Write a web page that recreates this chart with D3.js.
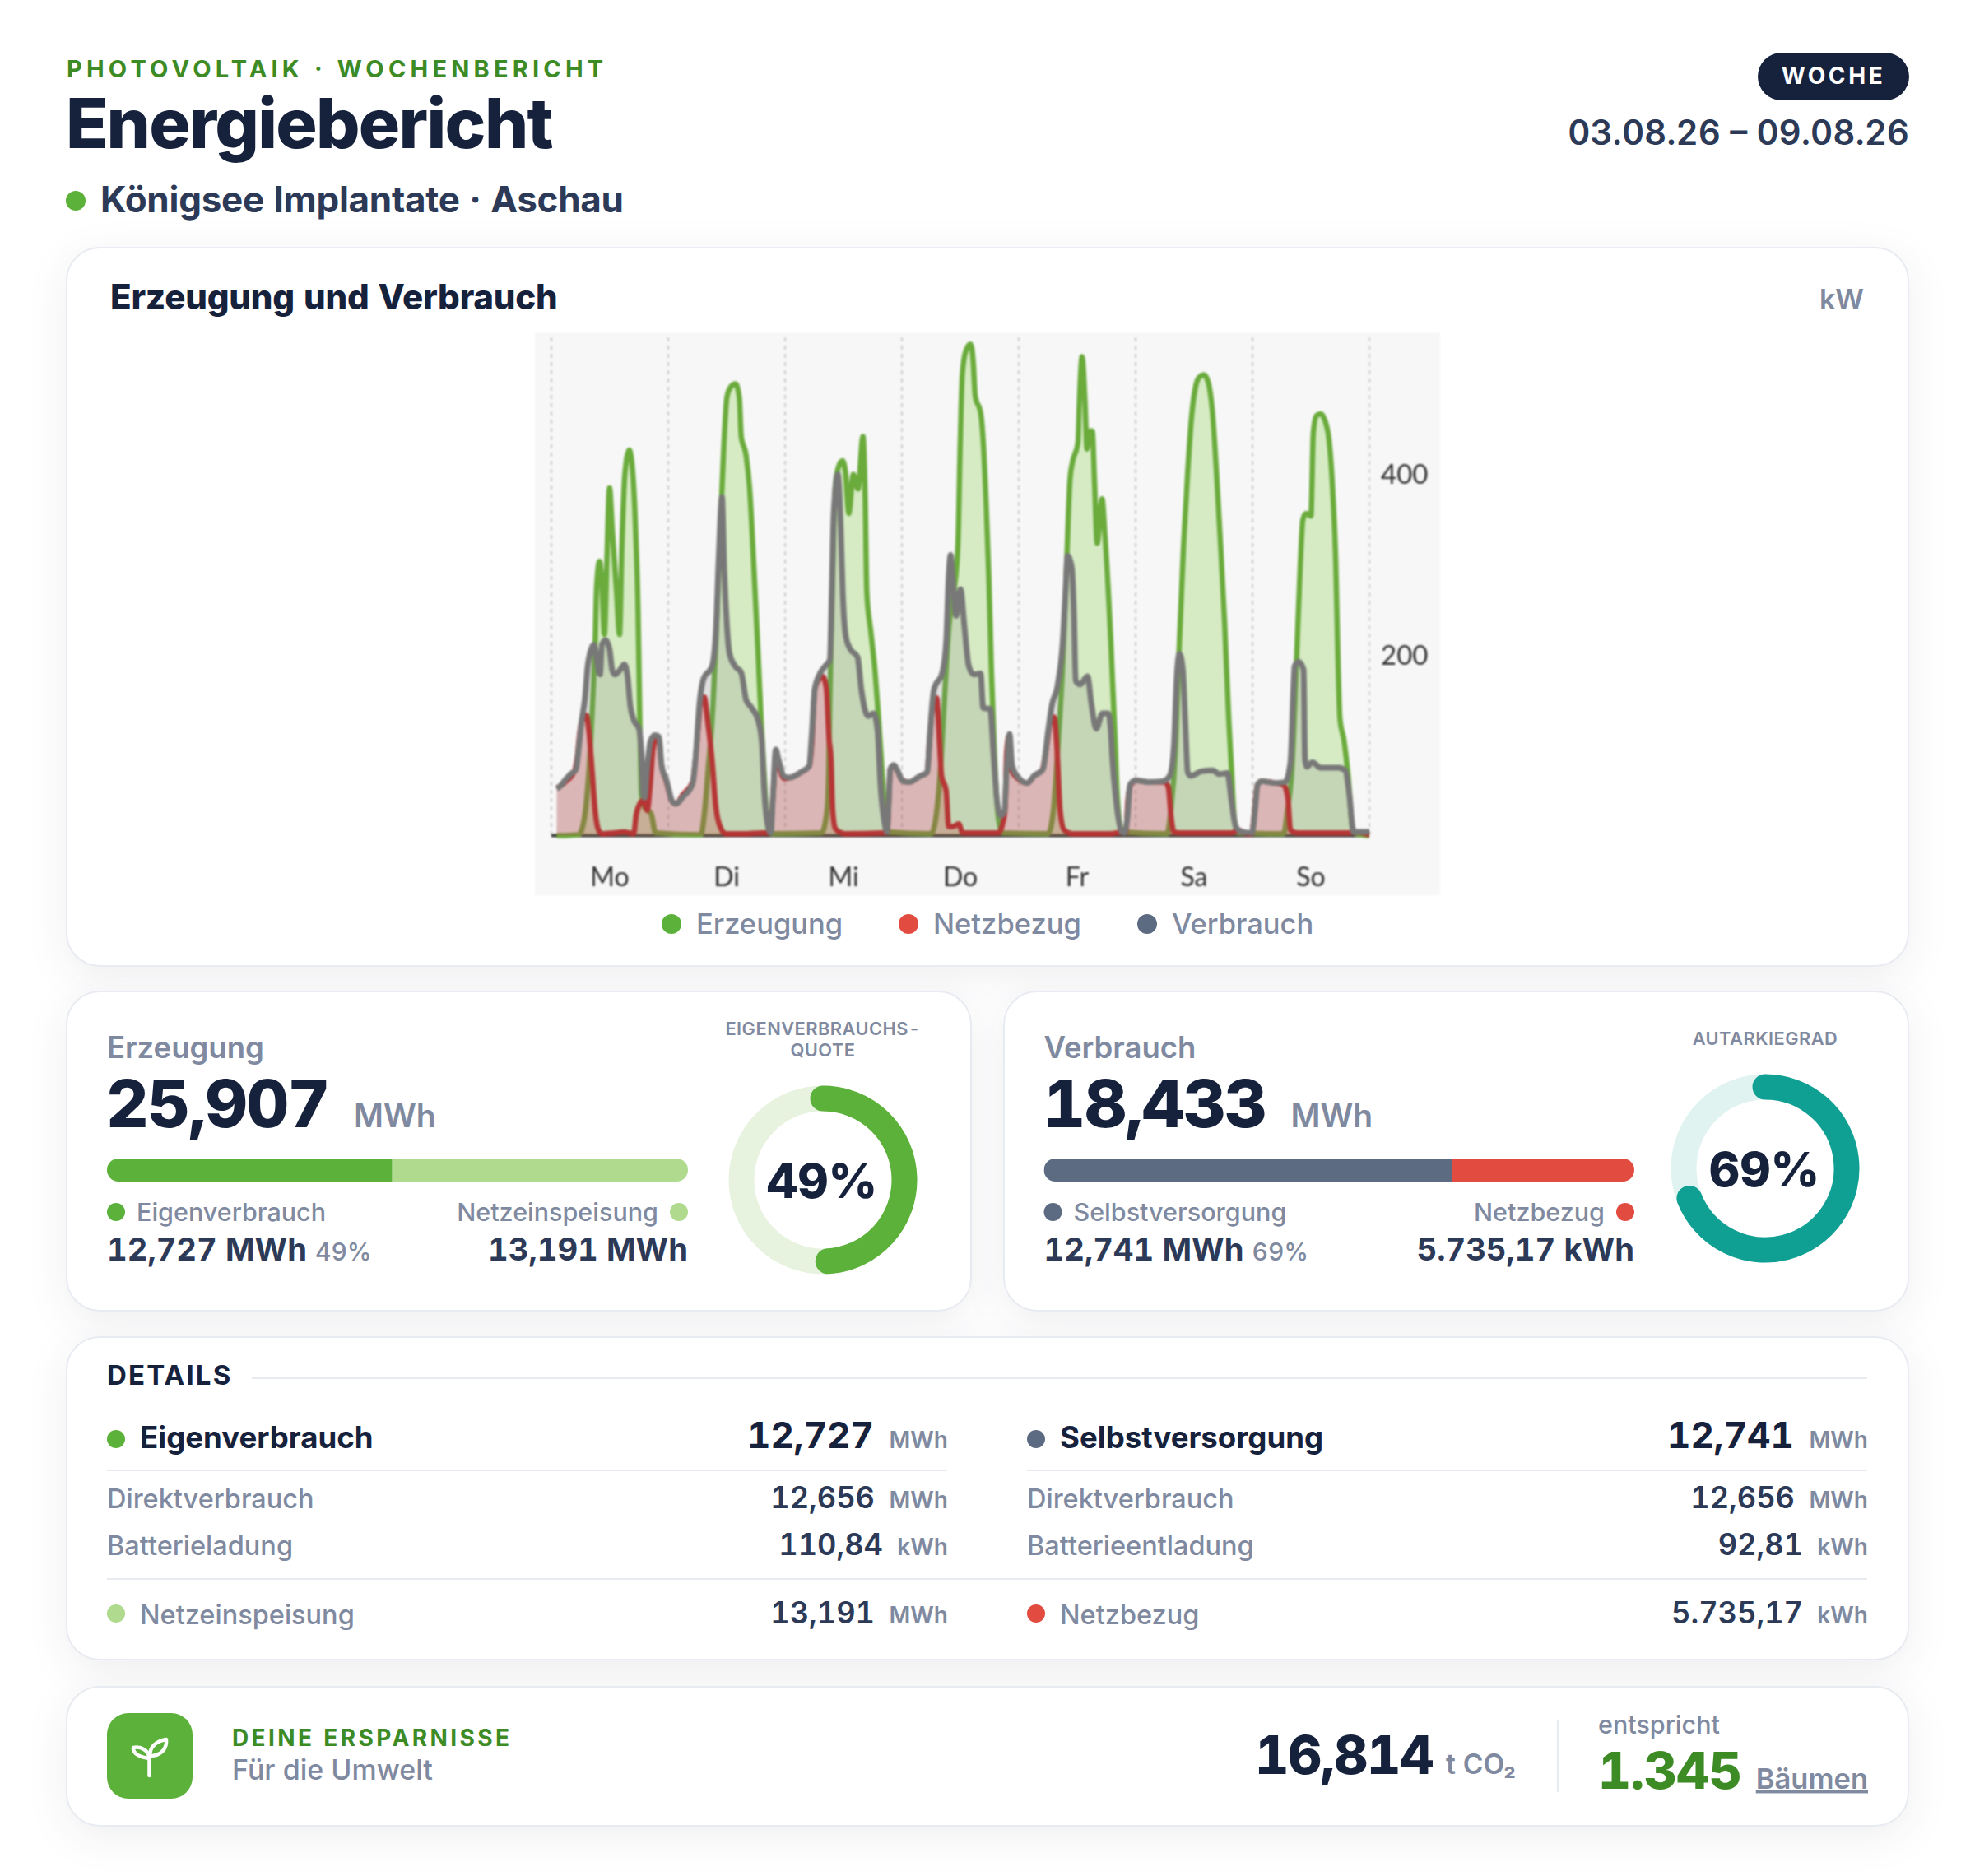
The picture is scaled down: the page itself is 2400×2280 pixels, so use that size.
<!DOCTYPE html>
<html lang="de">
<head>
<meta charset="utf-8">
<title>Energiebericht</title>
<script src="https://cdn.jsdelivr.net/npm/d3@7"></script>
<style>
  html, body { margin: 0; padding: 0; background: #fff; }
  svg { display: block; }
  text { font-family: Inter, "Noto Sans", sans-serif; font-feature-settings: "tnum"; }
  .plot text { font-family: Lato, sans-serif; }
  .card { filter: drop-shadow(0 12px 24px rgba(22, 33, 60, 0.07)); }
</style>
</head>
<body>
<svg id="report" width="2400" height="2280"></svg>
<script>
// Werte: [Stunde seit Montag 0 Uhr, kW]
var erzeugung = [[1.1,0],[5.6,1],[6.8,20],[7.6,63],[8.45,144],[9,215],[9.3,275],[9.9,303],[10.4,275],[10.9,222],[11.4,303],[11.95,384],[12.5,339],[13.4,268],[14,222],[14.5,321],[15.1,399],[16,426],[16.8,395],[17.35,332],[17.8,250],[18.15,134],[18.5,45],[19.15,31],[20.5,24],[21.4,3],
  [30.7,1],[31.55,31],[32.2,73],[33,126],[33.8,215],[34.65,332],[35.4,427],[36.05,484],[36.9,496],[37.85,499],[38.6,484],[39,441],[40,420],[40.7,385],[41.6,296],[42.5,197],[43.1,126],[43.65,73],[44.5,10],[45.1,2],
  [55.5,3],[56.6,27],[56.9,60],[57.2,150],[57.5,220],[58,339],[58.3,385],[58.9,406],[59.8,414],[60.4,402],[61.1,356],[62,399],[63,383],[64,441],[64.45,374],[64.8,268],[65.6,226],[66.5,180],[67.15,134],[67.9,73],[68.45,27],[69,4],
  [78,2],[79.15,27],[80,80],[80.85,162],[81.7,233],[82.8,275],[83.5,321],[83.95,427],[84.4,509],[85.1,535],[86.1,543],[86.65,523],[87.05,486],[88.2,466],[88.75,431],[89.3,367],[89.85,286],[90.4,180],[91,91],[91.8,20],[92.7,3],
  [102,2],[103.1,27],[103.95,91],[105.1,197],[105.9,310],[106.5,392],[107.05,413],[108.15,434],[108.45,480],[109,529],[109.6,480],[110,427],[110.6,447],[111.1,447],[111.55,392],[112.1,323],[113.1,372],[113.7,332],[114.9,215],[115.75,109],[116.3,38],[117.2,4],
  [126.45,2],[127.3,31],[128.15,91],[129,215],[129.85,321],[130.7,402],[131.5,463],[132.4,498],[133.2,507],[134.05,509],[134.9,501],[135.75,470],[136.6,402],[137.45,321],[138.3,233],[139.15,126],[139.7,73],[140.25,20],[141.1,3],
  [150.4,2],[151.25,31],[152.1,73],[152.95,180],[153.8,296],[154.35,349],[155,356],[156,353],[156.5,445],[157.15,464],[158,466],[158.85,459],[159.7,438],[160.55,374],[161.1,303],[161.55,197],[161.95,130],[162.8,105],[163.65,66],[164.5,10],[165.3,2],[168,0]];

var netzbezug = [[1.1,52],[2.8,59],[4.8,72],[5.35,88],[5.9,116],[6.5,130],[7.15,133],[7.7,116],[8.35,73],[9,27],[9.7,6],[10.4,2],[13,3],[14.9,4],[16.05,3],[16.9,2],[17.45,24],[18.15,35],[18.85,39],[19.7,28],[20.3,56],[20.85,95],[21.4,107],[22.1,105],[22.55,81],[23.65,59],[24.8,38],[25.6,35],[27,45],[29,59],[29.6,84],[30.15,119],[30.7,148],[31.4,153],[32.1,126],[33,84],[33.8,31],[34.65,10],[35.8,2],[39.4,2],[43.4,3],[44.8,3],
  [45.5,42],[45.9,77],[46.1,95],[46.65,80],[47.9,63],[49,64],[51.3,70],[53,77],[53.5,102],[54.1,162],[54.9,172],[55.7,176],[56.5,162],[57,109],[57.46,84],[57.75,31],[58.3,8],[59.15,4],[60.3,2],[68.45,3],[69,4],
  [69.3,38],[69.6,73],[70.15,77],[71,72],[72.1,61],[73.5,59],[75.5,65],[77.2,70],[77.6,98],[78.2,137],[79.15,152],[79.7,105],[80.15,66],[81.1,49],[81.6,10],[82.5,10],[83.65,13],[84.5,3],[91.8,3],
  [92.7,13],[93.2,31],[93.5,91],[94.1,112],[94.5,73],[95.8,63],[97.75,58],[99.15,66],[100.85,73],[101.7,98],[102.5,126],[103.25,131],[103.9,91],[104.5,27],[105.35,6],[107,2],[114.9,2],[117.4,4],
  [118,4],[118.4,38],[119,56],[120,61],[122.8,59],[125.9,59],[126.7,54],[127.3,20],[127.85,4],[129,3],[139.7,3],[141.1,6],[143.1,2],[143.9,2],
  [144.3,20],[145,56],[145.9,60],[148.7,58],[150.4,56],[151.25,42],[151.8,6],[153.2,3],[163.9,3],[165,4],[168,1]];

var verbrauch = [[1.1,52],[1.7,54],[2.8,61],[3.95,68],[5.05,73],[5.65,98],[6.2,126],[6.9,151],[7.45,187],[8,203],[8.75,211],[9.45,190],[10,178],[10.4,211],[11.15,216],[11.95,206],[12.5,183],[13.05,178],[14.1,183],[15,189],[15.65,176],[16.2,144],[16.9,128],[18,118],[18.5,91],[18.9,45],[19.15,42],[19.7,77],[20.4,105],[21.3,111],[22.1,109],[22.65,77],[23.65,61],[24.8,38],[25.6,35],[27.05,43],[29,57],[29.6,84],[30.4,144],[31.25,173],[33,187],[33.8,226],[34.35,303],[35.05,374],[35.5,296],[36.05,233],[36.6,201],[37.75,187],[39,180],[40,150],[41.15,141],[42.55,126],[43.25,102],[43.65,56],[44.5,10],[45.05,3],
  [45.5,42],[46.1,95],[46.65,84],[47.9,65],[49,64],[51.25,70],[52.95,77],[53.5,112],[54.1,162],[54.9,176],[56.35,188],[57.2,194],[57.6,268],[58,356],[58.85,399],[59.45,339],[59.85,268],[60.55,218],[61.4,206],[62.9,197],[63.65,162],[64.5,137],[65.05,132],[66.2,135],[67,116],[67.6,56],[68.45,13],[68.9,4],
  [69.3,38],[69.6,73],[70.3,78],[71.25,70],[72.2,60],[73.5,59],[75.5,65],[77.2,70],[77.75,112],[78.6,162],[80.3,180],[81.1,215],[81.6,286],[82,310],[82.55,275],[83.15,243],[84.05,272],[84.8,233],[85.75,187],[86.75,178],[88.15,179],[88.7,141],[90.15,140],[90.8,91],[91.55,38],[92.3,22],[93.05,27],
  [93.5,73],[94.1,112],[94.65,77],[95.8,65],[97.75,58],[99.15,66],[100.95,73],[101.95,112],[102.8,144],[103.95,165],[105.05,215],[105.65,275],[106,309],[106.9,296],[107.3,250],[107.7,171],[108.6,167],[110.1,176],[110.95,144],[111.9,118],[113.2,135],[114.35,135],[114.9,116],[115.2,87],[116,38],[117.15,4],[117.7,3],
  [118.3,20],[118.85,56],[120,61],[122.8,59],[125.6,60],[127,66],[127.85,98],[128.5,180],[129,201],[129.7,183],[130.2,126],[130.7,70],[131.35,66],[133.5,71],[135.85,72],[137.15,68],[138.85,69],[139.7,38],[140.55,10],[141.95,4],[143.9,3],
  [144.5,27],[145.05,56],[145.9,60],[148.7,58],[150.7,59],[151.8,81],[152.4,162],[152.65,187],[153.5,192],[154.5,183],[154.8,84],[155.2,76],[156.3,81],[158,75],[161.65,75],[163.05,72],[163.9,45],[164.75,4],[168,4]];

var tage = ["Mo", "Di", "Mi", "Do", "Fr", "Sa", "So"];
var yTicks = [200, 400];
var legende = ["Erzeugung", "Netzbezug", "Verbrauch"];

var eigenverbrauch = 12.727, netzeinspeisung = 13.191;
var selbstversorgung = 12.741, netzbezugMWh = 5.692;
var quoteEigen = 49, quoteAutark = 69;

var detailsLinks = [["Direktverbrauch", "12,656", "MWh"], ["Batterieladung", "110,84", "kWh"]];
var detailsRechts = [["Direktverbrauch", "12,656", "MWh"], ["Batterieentladung", "92,81", "kWh"]];

var NAVY = "#16213c", SLATE = "#2c3a57", MUTED = "#7f8aa0", RULE = "#e8ebf1";
var GREEN = "#5bb13a", LIGHTGREEN = "#b0da8e", DARKGREEN = "#3d8b24", STEEL = "#5d6b82", RED = "#e14b40", TEAL = "#0fa093";

var svg = d3.select("#report");

function txt(parent, x, y, s, size, weight, fill, anchor, ls) {
    return parent.append("text")
        .attr("x", x).attr("y", y)
        .attr("font-size", size).attr("font-weight", weight)
        .attr("fill", fill)
        .attr("text-anchor", anchor || "start")
        .attr("letter-spacing", ls || 0)
        .text(s);
}

function dot(x, y, r, fill) {
    svg.append("circle").attr("cx", x).attr("cy", y).attr("r", r).attr("fill", fill);
}

function card(x, y, w, h) {
    svg.append("rect").attr("class", "card")
        .attr("x", x + 1).attr("y", y + 1)
        .attr("width", w - 2).attr("height", h - 2)
        .attr("rx", 40)
        .attr("fill", "#fff").attr("stroke", RULE).attr("stroke-width", 2);
}

function hline(x1, x2, y) {
    svg.append("line").attr("x1", x1).attr("x2", x2).attr("y1", y).attr("y2", y)
        .attr("stroke", RULE).attr("stroke-width", 2);
}

// Kopf
txt(svg, 81, 94, "PHOTOVOLTAIK · WOCHENBERICHT", 29, 700, DARKGREEN, "start", 5.2);
txt(svg, 80, 180, "Energiebericht", 84, 800, NAVY, "start", -1.7);
dot(92, 244, 12, GREEN);
txt(svg, 122, 258, "Königsee Implantate · Aschau", 44, 700, SLATE, "start", -0.27);
svg.append("rect").attr("x", 2136).attr("y", 64).attr("width", 184).attr("height", 58).attr("rx", 29).attr("fill", NAVY);
txt(svg, 2228, 102, "WOCHE", 28, 700, "#fff", "middle", 3.6);
txt(svg, 2320, 176, "03.08.26 – 09.08.26", 42, 600, SLATE, "end");

// Diagrammkarte
card(80, 300, 2240, 875);
txt(svg, 134, 376, "Erzeugung und Verbrauch", 42, 800, NAVY, "start", -0.2);
txt(svg, 2265, 376, "kW", 34, 600, MUTED, "end");

var plot = svg.append("g").attr("class", "plot").style("filter", "blur(0.8px)");
plot.append("rect").attr("x", 650).attr("y", 404).attr("width", 1100).attr("height", 684).attr("fill", "#f7f7f7");

var x = d3.scaleLinear().domain([0, 168]).range([670, 1664]);
var y = d3.scaleLinear().domain([0, 400]).range([1015.5, 575.5]);
var xTage = d3.scaleBand().domain(tage).range([670, 1664]);

plot.selectAll("line.grid")
    .data(d3.range(0, 169, 24))
    .enter().append("line")
    .attr("class", "grid")
    .attr("x1", function(d) { return x(d); }).attr("x2", function(d) { return x(d); })
    .attr("y1", 410).attr("y2", 1015)
    .attr("stroke", "#cbcbcb").attr("stroke-width", 2).attr("stroke-dasharray", "5,5");

plot.append("line").attr("x1", x(0)).attr("x2", x(168)).attr("y1", y(0)).attr("y2", y(0))
    .attr("stroke", "#3a3a3a").attr("stroke-width", 4);

var linie = d3.line().x(function(d) { return x(d[0]); }).y(function(d) { return y(d[1]); }).curve(d3.curveMonotoneX);
var flaeche = d3.area().x(function(d) { return x(d[0]); }).y0(y(0)).y1(function(d) { return y(d[1]); }).curve(d3.curveMonotoneX);

var serien = [
    { punkte: erzeugung, fill: "rgba(120,200,50,0.26)", stroke: "#6aab3c", breite: 6.5 },
    { punkte: netzbezug, fill: "rgba(225,30,30,0.24)", stroke: "#c42323", breite: 6.5 },
    { punkte: verbrauch, fill: "rgba(128,128,128,0.2)", stroke: "#787878", breite: 7 }
];
serien.forEach(function(s) {
    plot.append("path").attr("d", flaeche(s.punkte)).attr("fill", s.fill);
    plot.append("path").attr("d", linie(s.punkte)).attr("fill", "none")
        .attr("stroke", s.stroke).attr("stroke-width", s.breite).attr("stroke-linejoin", "round");
});

var xAchse = plot.append("g").attr("transform", "translate(0,1015)")
    .call(d3.axisBottom(xTage).tickSize(0).tickPadding(39));
xAchse.select(".domain").remove();
xAchse.selectAll("text").attr("font-size", 32).attr("fill", "#333").attr("font-family", "Lato, sans-serif");

var yAchse = plot.append("g").attr("transform", "translate(1678,1)")
    .call(d3.axisRight(y).tickValues(yTicks).tickSize(0).tickPadding(0));
yAchse.select(".domain").remove();
yAchse.selectAll("text").attr("font-size", 33).attr("fill", "#333").attr("font-family", "Lato, sans-serif");

var legX = [[816, 846], [1104, 1134], [1394, 1424]], legC = [GREEN, RED, STEEL];
legende.forEach(function(l, i) {
    dot(legX[i][0], 1123, 12, legC[i]);
    txt(svg, legX[i][1], 1135, l, 34.5, 500, MUTED);
});

// Kennzahlen-Karten
function kennzahl(ox, L, R, titel, wert, a, b, ca, cb, nameA, nameB, wertA, pctA, wertB, ringLabel, pct, ringFarbe, ringGrund, cx, cy, labelY) {
    card(ox, 1204, 1101, 390);
    txt(svg, L, 1286, titel, 36.5, 600, MUTED);
    txt(svg, L - 1, 1370, wert, 80, 800, NAVY, "start", -1.5);
    txt(svg, L + 300, 1370, "MWh", 39, 600, MUTED);

    var bar = d3.scaleLinear().domain([0, a + b]).range([L, R]);
    var cid = "bar" + ox;
    svg.append("clipPath").attr("id", cid).append("rect")
        .attr("x", L).attr("y", 1408).attr("width", R - L).attr("height", 28).attr("rx", 14);
    var bg = svg.append("g").attr("clip-path", "url(#" + cid + ")");
    bg.append("rect").attr("x", bar(0)).attr("y", 1408).attr("width", bar(a) - bar(0)).attr("height", 28).attr("fill", ca);
    bg.append("rect").attr("x", bar(a)).attr("y", 1408).attr("width", bar(a + b) - bar(a)).attr("height", 28).attr("fill", cb);

    dot(L + 11, 1473, 11, ca);
    txt(svg, L + 36, 1484, nameA, 30.5, 500, MUTED);
    dot(R - 11, 1473, 11, cb);
    txt(svg, R - 36, 1484, nameB, 30.5, 500, MUTED, "end");
    var t = txt(svg, L, 1532, wertA, 38.2, 700, SLATE);
    txt(svg, L + t.node().getComputedTextLength() + 10, 1532, pctA, 30, 500, MUTED);
    txt(svg, R, 1532, wertB, 38.2, 700, SLATE, "end");

    // Ring
    var r = 99;
    var winkel = d3.scaleLinear().domain([0, 100]).range([-Math.PI / 2, 1.5 * Math.PI]);
    svg.append("circle").attr("cx", cx).attr("cy", cy).attr("r", r).attr("fill", "none")
        .attr("stroke", ringGrund).attr("stroke-width", 31);
    var p = d3.path();
    p.arc(cx, cy, r, winkel(0), winkel(pct));
    svg.append("path").attr("d", p.toString()).attr("fill", "none")
        .attr("stroke", ringFarbe).attr("stroke-width", 31).attr("stroke-linecap", "round");
    txt(svg, cx - 1, cy + 22, pct + "%", 58, 800, NAVY, "middle");
    ringLabel.forEach(function(z, i) {
        txt(svg, cx, labelY + i * 26, z, 21.8, 600, MUTED, "middle", 0.5);
    });
}

kennzahl(80, 130, 836, "Erzeugung", "25,907", eigenverbrauch, netzeinspeisung, GREEN, LIGHTGREEN,
    "Eigenverbrauch", "Netzeinspeisung", "12,727 MWh", "49%", "13,191 MWh",
    ["EIGENVERBRAUCHS-", "QUOTE"], quoteEigen, GREEN, "#e8f3df", 1000, 1434, 1258);
kennzahl(1219, 1268.5, 1986, "Verbrauch", "18,433", selbstversorgung, netzbezugMWh, STEEL, RED,
    "Selbstversorgung", "Netzbezug", "12,741 MWh", "69%", "5.735,17 kWh",
    ["AUTARKIEGRAD"], quoteAutark, TEAL, "#e0f3f0", 2145, 1420, 1270);

// Details
card(80, 1624, 2240, 394);
txt(svg, 130, 1683, "DETAILS", 33, 700, NAVY, "start", 2.2);
hline(306, 2269, 1675);
hline(130, 1151, 1787);
hline(1248, 2269, 1787);
hline(130, 2269, 1919);

function detailSpalte(ox, kopf, kopfWert, kopfFarbe, zeilen, fuss, fussWert, fussEinheit, fussFarbe) {
    var R = ox + 1022;
    dot(ox + 11, 1749, 11, kopfFarbe);
    txt(svg, ox + 40, 1760, kopf, 36.6, 700, NAVY);
    txt(svg, R - 90, 1760, kopfWert, 44, 700, NAVY, "end");
    txt(svg, R, 1760, "MWh", 28, 600, MUTED, "end");
    zeilen.forEach(function(z, i) {
        var yy = [1833, 1890][i];
        txt(svg, ox, yy, z[0], 32.5, 500, MUTED);
        var uw = z[2] == "kWh" ? 62 : 72;
        txt(svg, R - uw - 17, yy, z[1], 36.2, 600, SLATE, "end");
        txt(svg, R, yy, z[2], 28, 600, MUTED, "end");
    });
    dot(ox + 11, 1961, 11, fussFarbe);
    txt(svg, ox + 40, 1974, fuss, 32.5, 500, MUTED);
    var uw2 = fussEinheit == "kWh" ? 62 : 72;
    txt(svg, R - uw2 - 17, 1973, fussWert, 36.2, 600, SLATE, "end");
    txt(svg, R, 1973, fussEinheit, 28, 600, MUTED, "end");
}
detailSpalte(130, "Eigenverbrauch", "12,727", GREEN, detailsLinks, "Netzeinspeisung", "13,191", "MWh", LIGHTGREEN);
detailSpalte(1248, "Selbstversorgung", "12,741", STEEL, detailsRechts, "Netzbezug", "5.735,17", "kWh", RED);

// Ersparnisse
card(80, 2049, 2240, 171);
svg.append("rect").attr("x", 130).attr("y", 2082).attr("width", 104).attr("height", 104).attr("rx", 26).attr("fill", GREEN);
var spross = svg.append("g").attr("fill", "none").attr("stroke", "#fff").attr("stroke-width", 4.5)
    .attr("stroke-linecap", "round").attr("stroke-linejoin", "round");
spross.append("path").attr("d", "M181.5,2158V2136");
spross.append("path").attr("d", "M181.5,2137C172,2136 161,2132 162,2124C172,2122 181,2128 181.5,2137Z");
spross.append("path").attr("d", "M182,2134C182,2122 191,2116 202,2114C203,2124 197,2134 182,2134Z");
txt(svg, 282, 2122, "DEINE ERSPARNISSE", 28, 700, DARKGREEN, "start", 3.4);
txt(svg, 282, 2163, "Für die Umwelt", 34, 500, MUTED);
txt(svg, 1525, 2156, "16,814", 64, 800, NAVY, "start", -1.3);
txt(svg, 1757, 2156, "t CO₂", 33.5, 600, MUTED);
svg.append("line").attr("x1", 1893).attr("x2", 1893).attr("y1", 2090).attr("y2", 2178).attr("stroke", RULE).attr("stroke-width", 2);
txt(svg, 1942, 2107, "entspricht", 30.5, 500, MUTED);
txt(svg, 1942, 2174, "1.345", 62, 800, DARKGREEN, "start", -0.5);
txt(svg, 2270, 2174, "Bäumen", 34.5, 600, MUTED, "end").attr("text-decoration", "underline");
</script>
</body>
</html>
